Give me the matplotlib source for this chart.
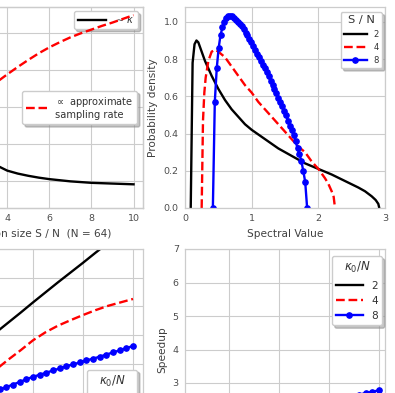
import matplotlib
matplotlib.use("Agg")
import matplotlib.pyplot as plt

# ---------------- data ----------------
# top-left: kappa and approximate sampling rate against S / N
sn_half = [2.0, 2.5, 3.0, 3.5, 4.0, 4.5, 5.0, 5.5, 6.0, 6.5, 7.0, 7.5, 8.0, 8.5, 9.0, 9.5, 10.0]
kappa_top = [2.55, 1.98, 1.62, 1.42, 1.28, 1.20, 1.14, 1.09, 1.05, 1.02, 0.99, 0.97, 0.95, 0.94, 0.93, 0.92, 0.91]
rate_top = [2.85, 3.15, 3.42, 3.67, 3.88, 4.08, 4.27, 4.45, 4.61, 4.75, 4.88, 4.99, 5.09, 5.19, 5.28, 5.38, 5.48]

# top-right: spectral densities for S / N = 2, 4, 8
spec_x2 = [0.086, 0.114, 0.143, 0.172, 0.20, 0.25, 0.30, 0.40, 0.50, 0.60, 0.70, 0.80, 0.90, 1.00,
           1.20, 1.40, 1.60, 1.80, 2.00, 2.20, 2.40, 2.60, 2.70, 2.80, 2.86, 2.90, 2.914]
dens_2 = [0, 0.78, 0.88, 0.90, 0.89, 0.84, 0.79, 0.71, 0.64, 0.58, 0.53, 0.49, 0.45, 0.42,
          0.37, 0.32, 0.28, 0.24, 0.21, 0.18, 0.145, 0.11, 0.09, 0.063, 0.043, 0.022, 0]
spec_x4 = [0.25, 0.27, 0.29, 0.31, 0.35, 0.40, 0.45, 0.50, 0.60, 0.70, 0.80, 0.90, 1.00, 1.10,
           1.20, 1.30, 1.40, 1.50, 1.60, 1.70, 1.80, 1.90, 2.00, 2.10, 2.15, 2.20, 2.23, 2.25]
dens_4 = [0, 0.47, 0.62, 0.70, 0.79, 0.84, 0.85, 0.84, 0.81, 0.76, 0.71, 0.66, 0.62, 0.57,
          0.53, 0.49, 0.45, 0.41, 0.37, 0.33, 0.30, 0.25, 0.21, 0.16, 0.13, 0.09, 0.06, 0]
spec_x8 = [0.418, 0.447, 0.476, 0.505, 0.533, 0.562, 0.591, 0.620, 0.649, 0.678,
           0.707, 0.735, 0.764, 0.793, 0.822, 0.851, 0.880, 0.909, 0.937, 0.966,
           0.995, 1.024, 1.053, 1.082, 1.111, 1.140, 1.168, 1.197, 1.226, 1.255,
           1.284, 1.313, 1.342, 1.370, 1.399, 1.428, 1.457, 1.486, 1.515, 1.544,
           1.572, 1.601, 1.630, 1.659, 1.688, 1.717, 1.746, 1.774, 1.803, 1.832]
dens_8 = [0, 0.57, 0.75, 0.86, 0.93, 0.97, 1.00, 1.02, 1.03, 1.03,
          1.03, 1.02, 1.01, 1.00, 0.99, 0.98, 0.96, 0.94, 0.93, 0.91,
          0.89, 0.87, 0.85, 0.83, 0.81, 0.79, 0.77, 0.75, 0.73, 0.71,
          0.68, 0.66, 0.64, 0.62, 0.59, 0.57, 0.55, 0.52, 0.50, 0.47,
          0.44, 0.42, 0.39, 0.36, 0.32, 0.29, 0.25, 0.20, 0.14, 0]

# bottom row: curves for kappa0 / N = 2, 4, 8
sn_fine = [2.00, 2.27, 2.53, 2.80, 3.07, 3.33, 3.60, 3.87, 4.13, 4.40, 4.67, 4.93, 5.20, 5.47, 5.73,
           6.00, 6.27, 6.53, 6.80, 7.07, 7.33, 7.60, 7.87, 8.13, 8.40, 8.67, 8.93, 9.20, 9.47, 9.73, 10.00]
bl_2 = [2.20, 2.60, 2.98, 3.35, 3.72, 4.08, 4.43, 4.78, 5.14, 5.49, 5.84, 6.18, 6.52, 6.87, 7.21, 7.55, 7.88]
bl_4 = [0.60, 1.05, 1.50, 1.95, 2.37, 2.79, 3.14, 3.47, 3.82, 4.10, 4.33, 4.52, 4.70, 4.87, 5.02, 5.14, 5.26]
bl_8 = [1.24, 1.33, 1.42, 1.51, 1.60, 1.68, 1.77, 1.85, 1.94, 2.02, 2.11, 2.19, 2.28, 2.37, 2.46,
        2.55, 2.62, 2.69, 2.77, 2.84, 2.92, 2.98, 3.05, 3.12, 3.18, 3.25, 3.32, 3.40, 3.47, 3.55, 3.62]
speed_2 = [1.10, 1.15, 1.20, 1.25, 1.30, 1.35, 1.40, 1.45, 1.50, 1.55, 1.60, 1.65, 1.70, 1.75, 1.80, 1.85, 1.90]
speed_4 = [1.20, 1.27, 1.34, 1.41, 1.48, 1.55, 1.62, 1.69, 1.76, 1.83, 1.90, 1.97, 2.04, 2.11, 2.18, 2.25, 2.30]
speed_8 = [1.50, 1.54, 1.58, 1.63, 1.67, 1.71, 1.76, 1.80, 1.84, 1.88, 1.93, 1.97, 2.01, 2.06, 2.10,
           2.14, 2.18, 2.22, 2.27, 2.31, 2.35, 2.40, 2.44, 2.48, 2.52, 2.57, 2.61, 2.65, 2.70, 2.74, 2.78]

# ---------------- style ----------------
plt.rcParams.update({
    "font.family": "DejaVu Sans",
    "text.color": ".2",
    "axes.labelcolor": ".25",
    "xtick.color": ".3",
    "ytick.color": ".3",
    "axes.edgecolor": ".8",
    "axes.linewidth": 0.9,
    "axes.grid": True,
    "axes.axisbelow": True,
    "grid.color": ".8",
    "grid.linewidth": 0.8,
    "xtick.major.size": 0,
    "ytick.major.size": 0,
    "xtick.major.pad": 4.5,
    "ytick.major.pad": 4.5,
    "xtick.labelsize": 6.8,
    "ytick.labelsize": 6.8,
    "axes.labelsize": 7.6,
    "legend.edgecolor": ".8",
})

W, H = 395, 393
shadow = {"color": "0.55", "alpha": 0.5}


def box(x0, y0, x1, y1):
    # pixel box (from top-left) -> figure fraction
    return [x0 / W, 1 - y1 / H, (x1 - x0) / W, (y1 - y0) / H]


fig = plt.figure(figsize=(3.95, 3.93), dpi=100)
lw = 1.7

# top-left
ax = fig.add_axes(box(-77, 7, 143, 208))
ax.plot(sn_half, kappa_top, color="k", lw=lw, label=r"$\sim\kappa$")
ax.set_xlim(10.45 - 220 / 21.7, 10.45)
ax.set_ylim(0.27, 5.70)
ax.set_xticks([0, 2, 4, 6, 8, 10])
ax.set_yticks([1, 2, 3, 4, 5])
ax.set_xlabel("Projection size S / N  (N = 64)")
ax.legend(loc="upper right", bbox_to_anchor=(0.977, 0.98), borderaxespad=0,
          fontsize=7.1, handlelength=2.9, shadow=shadow)
ax_r = ax.twinx()
ax_r.plot(sn_half, rate_top, color="r", ls="--", lw=lw,
          label="$\\propto$ approximate\nsampling rate")
ax_r.set_ylim(0.27, 5.70)
ax_r.set_yticks([])
ax_r.grid(False)
ax_r.legend(loc="center right", bbox_to_anchor=(0.973, 0.5), borderaxespad=0,
            fontsize=7.1, handlelength=2.1, shadow=shadow)

# top-right
ax = fig.add_axes(box(185, 7, 385, 208))
ax.plot(spec_x2, dens_2, color="k", lw=lw, label="2")
ax.plot(spec_x4, dens_4, color="r", ls="--", lw=lw, label="4")
ax.plot(spec_x8, dens_8, color="b", lw=lw, marker="o", ms=3.8, label="8")
ax.set_xlim(0, 3)
ax.set_ylim(0, 1.08)
ax.set_xticks([0, 1, 2, 3])
ax.set_yticks([0, 0.2, 0.4, 0.6, 0.8, 1.0])
ax.set_xlabel("Spectral Value")
ax.set_ylabel("Probability density")
ax.legend(title="S / N", loc="upper right", bbox_to_anchor=(0.985, 0.975), borderaxespad=0,
          fontsize=6, title_fontsize=8.2, handlelength=2.7, shadow=shadow)

# bottom-left
ax = fig.add_axes(box(-77, 249, 143, 450))
ax.plot(sn_half, bl_2, color="k", lw=lw, label="2")
ax.plot(sn_half, bl_4, color="r", ls="--", lw=lw, label="4")
ax.plot(sn_fine, bl_8, color="b", lw=lw, marker="o", ms=3.8, label="8")
ax.set_xlim(1.6, 10.4)
ax.set_ylim(0, 7)
ax.set_xticks([2, 4, 6, 8, 10])
ax.set_yticks(range(0, 8))
ax.legend(title=r"$\kappa_0/N$", loc="lower right", bbox_to_anchor=(0.973, 0.055), borderaxespad=0,
          fontsize=7.6, title_fontsize=8.5, handlelength=2.5, shadow=shadow)

# bottom-right
ax = fig.add_axes(box(185, 249, 385, 450))
ax.plot(sn_half, speed_2, color="k", lw=lw, label="2")
ax.plot(sn_half, speed_4, color="r", ls="--", lw=lw, label="4")
ax.plot(sn_fine, speed_8, color="b", lw=lw, marker="o", ms=3.8, label="8")
ax.set_xlim(2.24, 10.24)
ax.set_ylim(1, 7)
ax.set_xticks([4, 6, 8, 10])
ax.set_yticks(range(1, 8))
ax.set_ylabel("Speedup")
ax.legend(title=r"$\kappa_0/N$", loc="upper right", bbox_to_anchor=(0.985, 0.965), borderaxespad=0,
          fontsize=7.6, title_fontsize=8.5, handlelength=2.5, shadow=shadow)

fig.savefig("out.png", dpi=100)
